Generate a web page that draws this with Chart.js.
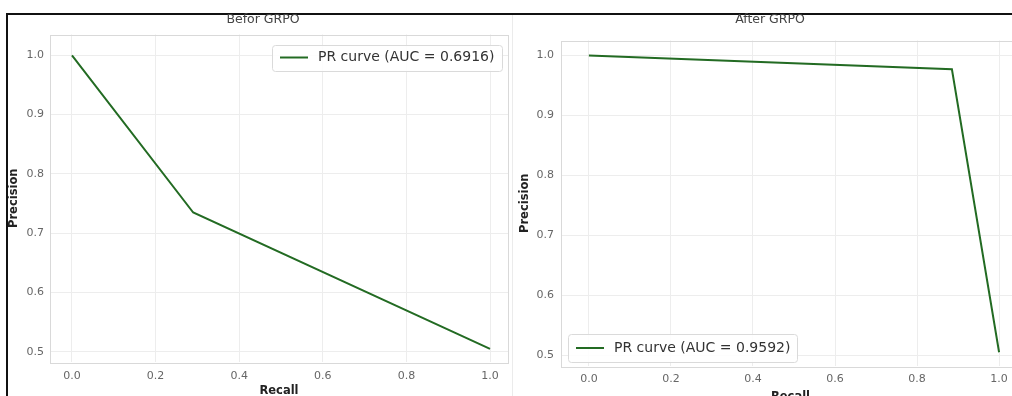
<!DOCTYPE html>
<html>
<head>
<meta charset="utf-8">
<script src="https://cdn.jsdelivr.net/npm/chart.js@4.4.0/dist/chart.umd.min.js"></script>
<style>
  html, body { margin: 0; padding: 0; background: #fff; overflow: hidden; width: 1012px; height: 396px; }
  #frame { position: absolute; left: 6px; top: 13px; width: 1010px; height: 390px; border-top: 2px solid #111; border-left: 2px solid #111; }
  #sep { position: absolute; left: 512px; top: 15px; width: 1px; height: 381px; background: #ebebeb; }
  canvas { position: absolute; top: 0; }
  #before { left: 8px; }
  #after { left: 512px; }
</style>
</head>
<body>
<div id="frame"></div>
<div id="sep"></div>
<canvas id="before" width="510" height="398"></canvas>
<canvas id="after" width="520" height="404"></canvas>
<script>
// values
const recallBefore = [0.0, 0.29, 1.0];
const precisionBefore = [1.0, 0.735, 0.505];
const recallAfter = [0.0, 0.885, 1.0];
const precisionAfter = [1.0, 0.977, 0.505];
const xTicks = [0.0, 0.2, 0.4, 0.6, 0.8, 1.0];
const yTicks = [0.5, 0.6, 0.7, 0.8, 0.9, 1.0];
const labelBefore = 'PR curve (AUC = 0.6916)';
const labelAfter = 'PR curve (AUC = 0.9592)';

const lineColor = '#236b23';
Chart.defaults.font.family = '"DejaVu Sans", sans-serif';

// chart-area frame + matplotlib style legend box inside the axes
const boxLegend = {
  id: 'boxLegend',
  beforeDatasetsDraw(chart) {
    const { ctx, chartArea: a } = chart;
    ctx.save();
    ctx.strokeStyle = '#d9d9d9';
    ctx.lineWidth = 1;
    ctx.strokeRect(Math.round(a.left) + 0.5, Math.round(a.top) + 0.5, Math.round(a.width), Math.round(a.height));
    ctx.restore();
  },
  afterDraw(chart, args, o) {
    const { ctx, chartArea: a } = chart;
    const ds = chart.data.datasets[0];
    const x = o.corner === 'ur' ? a.right - o.dx - o.w : a.left + o.dx;
    const y = o.corner === 'ur' ? a.top + o.dy : a.bottom - o.dy - o.h;
    ctx.save();
    ctx.fillStyle = 'rgba(255,255,255,0.85)';
    ctx.strokeStyle = '#dadada';
    ctx.lineWidth = 1;
    ctx.beginPath();
    ctx.roundRect(Math.round(x) + 0.5, Math.round(y) + 0.5, o.w, o.h, 3);
    ctx.fill();
    ctx.stroke();
    const cy = y + o.h / 2;
    ctx.strokeStyle = ds.borderColor;
    ctx.lineWidth = ds.borderWidth;
    ctx.beginPath();
    ctx.moveTo(x + 8, cy);
    ctx.lineTo(x + 36, cy);
    ctx.stroke();
    ctx.fillStyle = '#333';
    ctx.font = '14px "DejaVu Sans", sans-serif';
    ctx.textBaseline = 'middle';
    ctx.fillText(ds.label, x + 46, cy);
    ctx.restore();
  }
};

function makePR(id, xs, ys, o) {
  const points = xs.map((x, i) => ({ x, y: ys[i] }));
  return new Chart(document.getElementById(id), {
    type: 'line',
    data: {
      datasets: [{
        label: o.label,
        data: points,
        borderColor: lineColor,
        borderWidth: 2,
        pointRadius: 0,
        tension: 0,
        fill: false
      }]
    },
    options: {
      responsive: false,
      animation: false,
      devicePixelRatio: 1,
      layout: { padding: { left: o.padLeft, right: o.padRight, top: 0, bottom: 0 } },
      plugins: {
        legend: { display: false },
        tooltip: { enabled: false },
        title: {
          display: true,
          text: o.title,
          color: '#444',
          font: { size: 12.5, weight: 'normal' },
          padding: { top: 12.5, bottom: o.titleBottom }
        },
        boxLegend: o.legend
      },
      scales: {
        x: {
          type: 'linear',
          min: o.xMin, max: o.xMax,
          afterBuildTicks: s => { s.ticks = xTicks.map(v => ({ value: v })); },
          afterFit: s => { s.height = o.xHeight; },
          grid: { color: '#ededed', drawTicks: false },
          border: { display: false },
          ticks: { padding: o.xPad, color: '#666', font: { size: 11 }, maxRotation: 0, callback: v => v.toFixed(1) },
          title: { display: true, text: 'Recall', color: '#222', font: { size: 11.5, weight: 'bold' }, padding: 0 }
        },
        y: {
          min: o.yMin, max: o.yMax,
          afterBuildTicks: s => { s.ticks = yTicks.map(v => ({ value: v })); },
          afterFit: s => { s.width = o.yWidth; },
          grid: { color: '#ededed', drawTicks: false },
          border: { display: false },
          ticks: { padding: o.yPad, color: '#666', font: { size: 11 }, callback: v => v.toFixed(1) },
          title: { display: true, text: 'Precision', color: '#222', font: { size: 11.5, weight: 'bold' }, padding: { top: o.yTitlePad, bottom: 0 } }
        }
      }
    },
    plugins: [boxLegend]
  });
}

makePR('before', recallBefore, precisionBefore, {
  label: labelBefore, title: 'Befor GRPO',
  padLeft: 10, padRight: 10, titleBottom: 7,
  xMin: -0.0526, xMax: 1.043, yMin: 0.483, yMax: 1.035,
  xHeight: 36, yWidth: 32, xPad: 8, yPad: 6, yTitlePad: -11,
  legend: { corner: 'ur', dx: 6, dy: 10, w: 230, h: 26 }
});

makePR('after', recallAfter, precisionAfter, {
  label: labelAfter, title: 'After GRPO',
  padLeft: 8, padRight: 12, titleBottom: 13,
  xMin: -0.068, xMax: 1.051, yMin: 0.482, yMax: 1.025,
  xHeight: 38, yWidth: 41, xPad: 7, yPad: 7, yTitlePad: -2,
  legend: { corner: 'll', dx: 7, dy: 4, w: 229, h: 28 }
});
</script>
</body>
</html>
